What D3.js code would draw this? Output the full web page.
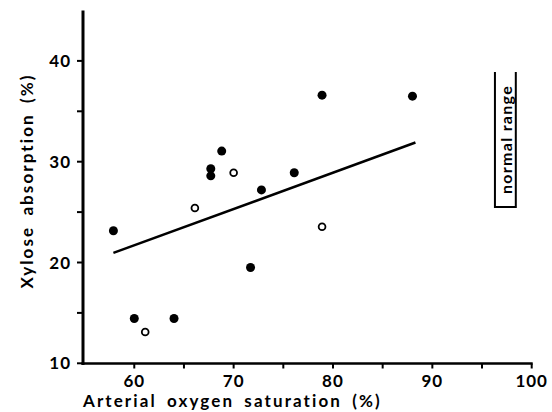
<!DOCTYPE html>
<html>
<head>
<meta charset="utf-8">
<script src="https://cdn.jsdelivr.net/npm/d3@7"></script>
<style>
  html, body { margin: 0; padding: 0; background: #fff; }
  svg text { font-family: "Lato", "DejaVu Sans", sans-serif; font-weight: 700; fill: #000; }
</style>
</head>
<body>
<div id="chart"></div>
<script>
// filled circles
const filledX = [57.9, 60.0, 64.0, 67.7, 67.7, 68.8, 72.8, 76.1, 71.7, 78.9, 88.0];
const filledY = [23.15, 14.45, 14.45, 29.3, 28.6, 31.05, 27.2, 28.9, 19.5, 36.6, 36.5];
// open circles
const openX = [61.1, 66.1, 70.0, 78.9];
const openY = [13.1, 25.4, 28.9, 23.55];
// regression line end points
const lineX = [57.9, 88.3];
const lineY = [20.95, 31.9];
// normal range bracket
const normalX = [96.3, 98.4];
const normalY = [25.5, 38.9];

const xTicks = [60, 70, 80, 90, 100];
const xMinor = [65, 75, 85, 95];
const yTicks = [10, 20, 30, 40];
const yMinor = [15, 25, 35];

const W = 552, H = 412;
const svg = d3.select('#chart').append('svg')
  .attr('width', W).attr('height', H);

const x = d3.scaleLinear().domain([55, 100]).range([84.6, 531.7]);
const y = d3.scaleLinear().domain([10, 45]).range([363.3, 10.5]);

const x0 = 83, y0 = 363.5;

// axes lines
svg.append('line')
  .attr('x1', x0).attr('x2', x0)
  .attr('y1', y(45)).attr('y2', y0 + 1.5)
  .attr('stroke', '#000').attr('stroke-width', 3);
svg.append('line')
  .attr('x1', x0 - 1.5).attr('x2', x(100) + 1)
  .attr('y1', y0).attr('y2', y0)
  .attr('stroke', '#000').attr('stroke-width', 2.5);

// x ticks
svg.selectAll('.xt')
  .data(xTicks.concat(xMinor))
  .enter().append('line')
  .attr('x1', d => x(d)).attr('x2', d => x(d))
  .attr('y1', y0).attr('y2', y0 + 5)
  .attr('stroke', '#000').attr('stroke-width', 2);

svg.selectAll('.xl')
  .data(xTicks)
  .enter().append('text')
  .attr('x', d => x(d))
  .attr('y', 387)
  .attr('text-anchor', 'middle')
  .attr('font-size', '17px')
  .attr('letter-spacing', '1px')
  .text(d => d);

// y ticks
svg.selectAll('.yt')
  .data(yTicks.concat(yMinor))
  .enter().append('line')
  .attr('x1', x0 - 6).attr('x2', x0)
  .attr('y1', d => y(d)).attr('y2', d => y(d))
  .attr('stroke', '#000').attr('stroke-width', 2);

svg.selectAll('.yl')
  .data(yTicks)
  .enter().append('text')
  .attr('x', 71)
  .attr('y', d => y(d) + 6)
  .attr('text-anchor', 'end')
  .attr('font-size', '17px')
  .attr('letter-spacing', '1px')
  .text(d => d);

// axis titles
svg.append('text')
  .attr('x', 83)
  .attr('y', 407)
  .attr('font-size', '17px')
  .attr('letter-spacing', '2.1px')
  .attr('word-spacing', '4px')
  .text('Arterial oxygen saturation (%)');

svg.append('text')
  .attr('transform', 'translate(33,181) rotate(-90)')
  .attr('text-anchor', 'middle')
  .attr('font-size', '17px')
  .attr('letter-spacing', '2.1px')
  .attr('word-spacing', '4px')
  .text('Xylose absorption (%)');

// regression line
svg.append('line')
  .attr('x1', x(lineX[0])).attr('y1', y(lineY[0]))
  .attr('x2', x(lineX[1])).attr('y2', y(lineY[1]))
  .attr('stroke', '#000').attr('stroke-width', 2.5);

// points
svg.selectAll('.filled')
  .data(filledX.map((d, i) => [d, filledY[i]]))
  .enter().append('circle')
  .attr('cx', d => x(d[0])).attr('cy', d => y(d[1]))
  .attr('r', 4.5)
  .attr('fill', '#000');

svg.selectAll('.open')
  .data(openX.map((d, i) => [d, openY[i]]))
  .enter().append('circle')
  .attr('cx', d => x(d[0])).attr('cy', d => y(d[1]))
  .attr('r', 3.4)
  .attr('fill', '#fff')
  .attr('stroke', '#000')
  .attr('stroke-width', 1.8);

// normal range bracket
const nb = svg.append('g');
nb.append('path')
  .attr('d', `M${x(normalX[0])},${y(normalY[1])} V${y(normalY[0])} H${x(normalX[1])} V${y(normalY[1])}`)
  .attr('fill', 'none')
  .attr('stroke', '#000')
  .attr('stroke-width', 2);
nb.append('text')
  .attr('transform', `translate(${(x(normalX[0]) + x(normalX[1])) / 2 + 7},${(y(normalY[0]) + y(normalY[1])) / 2}) rotate(-90)`)
  .attr('text-anchor', 'middle')
  .attr('font-size', '16px')
  .attr('letter-spacing', '1.3px')
  .text('normal range');
</script>
</body>
</html>
